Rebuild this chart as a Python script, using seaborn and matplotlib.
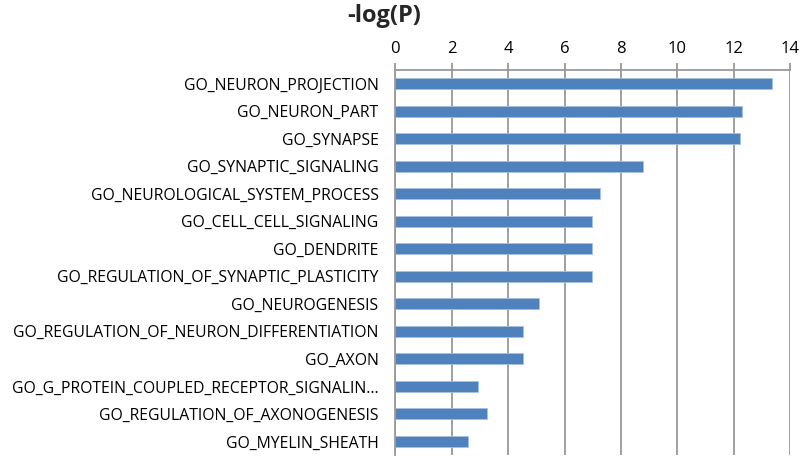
import matplotlib
matplotlib.use("Agg")
import matplotlib.pyplot as plt
import numpy as np
import pandas as pd
import seaborn as sns

# GO terms and their -log(P) values
terms = [
    "GO_NEURON_PROJECTION",
    "GO_NEURON_PART",
    "GO_SYNAPSE",
    "GO_SYNAPTIC_SIGNALING",
    "GO_NEUROLOGICAL_SYSTEM_PROCESS",
    "GO_CELL_CELL_SIGNALING",
    "GO_DENDRITE",
    "GO_REGULATION_OF_SYNAPTIC_PLASTICITY",
    "GO_NEUROGENESIS",
    "GO_REGULATION_OF_NEURON_DIFFERENTIATION",
    "GO_AXON",
    "GO_G_PROTEIN_COUPLED_RECEPTOR_SIGNALIN...",
    "GO_REGULATION_OF_AXONOGENESIS",
    "GO_MYELIN_SHEATH",
]
neg_log_p = [13.35, 12.28, 12.23, 8.77, 7.25, 6.96, 6.96, 6.96,
             5.11, 4.53, 4.51, 2.95, 3.24, 2.59]
x_ticks = [0, 2, 4, 6, 8, 10, 12, 14]

df = pd.DataFrame({"term": terms, "value": neg_log_p})

sns.set_style("white")
plt.rcParams["font.family"] = ["Open Sans", "DejaVu Sans"]

fig = plt.figure(figsize=(8, 4.57), dpi=100)
ax = fig.add_axes([0.494, 0.004, 0.494, 0.843])

sns.barplot(data=df, x="value", y="term", orient="h", color="#4f81bd",
            saturation=1, width=0.4, edgecolor="#a9c1e0", linewidth=0.6, ax=ax)

ax.set_xlim(0, 14)
ax.set_ylim(len(terms) - 0.5, -0.5)
ax.set_xticks(x_ticks)
ax.xaxis.tick_top()
ax.set_xlabel("")
ax.set_ylabel("")
ax.grid(axis="x", color="#999999", linewidth=1.3)
ax.set_axisbelow(True)

for side in ["right", "bottom"]:
    ax.spines[side].set_visible(False)
for side in ["top", "left"]:
    ax.spines[side].set_color("#999999")
    ax.spines[side].set_linewidth(1.3)

# category ticks sit between bars, like the original
ax.set_yticks(np.arange(len(terms)))
ax.set_yticks(np.arange(len(terms) + 1) - 0.5, minor=True)
ax.tick_params(axis="y", which="major", length=0, pad=12, labelsize=11.3,
               labelcolor="black")
ax.tick_params(axis="y", which="minor", length=5, color="#999999", width=1.3)
ax.tick_params(axis="x", which="major", length=5, color="#999999", width=1.3,
               labelsize=12, labelcolor="black", pad=4, top=True, bottom=False)

fig.text(0.48, 0.965, "-log(P)", ha="center", va="center",
         fontsize=17, fontweight="bold")

fig.savefig("out.png", dpi=100)
